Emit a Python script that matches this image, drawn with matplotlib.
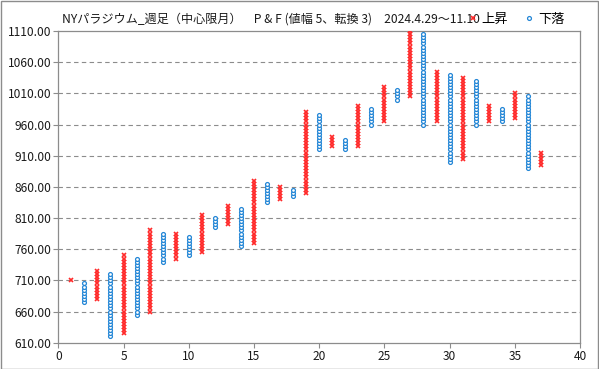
import numpy as np
import matplotlib
matplotlib.use('Agg')
import matplotlib.pyplot as plt
from matplotlib.lines import Line2D
from matplotlib.patches import Rectangle

plt.rcParams['font.family'] = ['Noto Sans CJK JP', 'DejaVu Sans']

# P&F columns (box 5, reversal 3): column number, type, low, high
col_no = list(range(1, 38))
col_type = ['X', 'O', 'X', 'O', 'X', 'O', 'X', 'O', 'X', 'O',
            'X', 'O', 'X', 'O', 'X', 'O', 'X', 'O', 'X', 'O',
            'X', 'O', 'X', 'O', 'X', 'O', 'X', 'O', 'X', 'O',
            'X', 'O', 'X', 'O', 'X', 'O', 'X']
col_low = [710, 675, 680, 620, 625, 655, 660, 740, 745, 750,
           755, 795, 800, 765, 770, 835, 840, 845, 850, 920,
           925, 920, 925, 960, 965, 1000, 1005, 960, 965, 900,
           905, 960, 965, 965, 970, 890, 895]
col_high = [710, 705, 725, 720, 750, 745, 790, 785, 785, 780,
            815, 810, 830, 825, 870, 865, 860, 855, 980, 975,
            940, 935, 990, 985, 1020, 1015, 1110, 1105, 1045, 1040,
            1035, 1030, 990, 985, 1010, 1005, 915]
box_size = 5

title = 'NYパラジウム_週足（中心限月）　P & F (値幅 5、転換 3)　2024.4.29～11.10'
y_ticks = [610, 660, 710, 760, 810, 860, 910, 960, 1010, 1060, 1110]
x_ticks = [0, 5, 10, 15, 20, 25, 30, 35, 40]

up_x, up_y, dn_x, dn_y = [], [], [], []
for n, t, lo, hi in zip(col_no, col_type, col_low, col_high):
    boxes = np.arange(lo, hi + box_size, box_size)
    if t == 'X':
        up_x += [n] * len(boxes)
        up_y += list(boxes)
    else:
        dn_x += [n] * len(boxes)
        dn_y += list(boxes)

red = '#ff2a2a'
blue = '#2386d6'
grey = '#8c8c8c'

fig = plt.figure(figsize=(5.99, 3.69), dpi=100)
ax = fig.add_axes([58.3 / 599, 1 - 342.7 / 369, (580 - 58.3) / 599, (342.7 - 31) / 369])

for y in y_ticks[1:-1]:
    ax.axhline(y, color=grey, lw=0.8, ls=(0, (4, 3)), zorder=1)

x_style = dict(ls='none', marker='x', ms=3.4, mew=1.2, color=red)
o_style = dict(ls='none', marker='o', ms=2.8, mew=0.9, mfc='white', mec=blue)
ax.plot(up_x, up_y, zorder=3, **x_style)
ax.plot(dn_x, dn_y, zorder=3, **o_style)

ax.set_xlim(0, 40)
ax.set_ylim(610, 1110)
ax.set_xticks(x_ticks)
ax.set_yticks(y_ticks)
ax.set_yticklabels(['%.2f' % v for v in y_ticks])
ax.tick_params(labelsize=8.6, length=3.5, color=grey, width=0.8, pad=1.5, labelcolor='#1a1a1a')
for s in ax.spines.values():
    s.set_color(grey)
    s.set_linewidth(0.9)

fig.text(62 / 599, 1 - 19 / 369, title, fontsize=8.7, va='center', ha='left', color='#1a1a1a')

handles = [Line2D([], [], **x_style), Line2D([], [], **o_style)]
fig.legend(handles, ['上昇', '下落'], loc='center left', bbox_to_anchor=(460 / 599, 1 - 19 / 369),
           ncol=2, frameon=False, fontsize=9.5, handlelength=0.7, handletextpad=0.3,
           columnspacing=1.3, borderpad=0.1)

fig.patches.append(Rectangle((0.5 / 599, 0.5 / 369), 597.5 / 599, 367.5 / 369,
                             transform=fig.transFigure, fill=False, ec=grey, lw=1.0))

fig.savefig('out.png', dpi=100)
